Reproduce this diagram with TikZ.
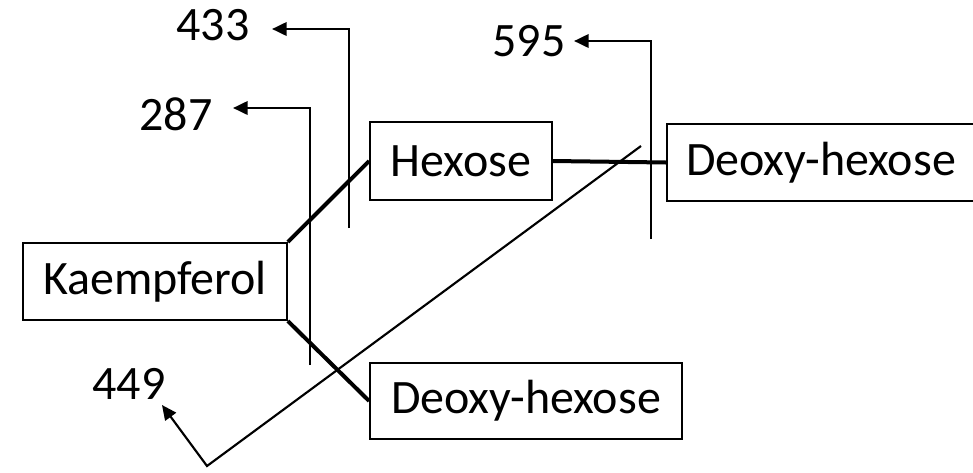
\documentclass[tikz,border=0pt]{standalone}
\usepackage{fontspec}
\setmainfont{Carlito}
\usetikzlibrary{arrows.meta}

\begin{document}
\begin{tikzpicture}[x=0.75pt,y=-0.75pt,
  every node/.style={font=\fontsize{36}{43}\selectfont,inner sep=0pt},
  box/.style={draw,line width=1.3pt,minimum height=58pt},
  link/.style={line width=3pt},
  frag/.style={line width=2pt,-{Triangle[length=11pt,width=10pt]}}]
  \useasboundingbox (0,0) rectangle (973,472);
  % sugar chain
  \node[box,minimum width=198pt] (kae) at (155,281.5) {Kaempferol};
  \node[box,minimum width=136.5pt] (hex) at (461,161) {Hexose};
  \node[box,minimum width=231pt] (dxt) at (821,162.5) {Deoxy-hexose};
  \node[box,minimum width=234pt,minimum height=57pt] (dxb) at (526,401) {Deoxy-hexose};
  \draw[link] (kae.north east) -- (hex.west);
  \draw[link] (kae.south east) -- (dxb.west);
  \draw[link] (hex.east) -- (dxt.west);
  % fragment ions
  \node (n433) at (213,25) {433};
  \node (n287) at (176,114) {287};
  \node (n595) at (529,41) {595};
  \node (n449) at (129,384) {449};
  \coordinate (b433) at (349,228);
  \coordinate (t433) at (272,29);
  \coordinate (b287) at (310,365);
  \coordinate (t287) at (233,108);
  \coordinate (b595) at (651,239);
  \coordinate (t595) at (574,41);
  \coordinate (s449) at (641,146);
  \coordinate (k449) at (207,466);
  \coordinate (t449) at (162,405);
  \draw[frag] (b433) |- (t433);
  \draw[frag] (b287) |- (t287);
  \draw[frag] (b595) |- (t595);
  \draw[frag,line width=1.6pt] (s449) -- (k449) -- (t449);
\end{tikzpicture}
\end{document}
